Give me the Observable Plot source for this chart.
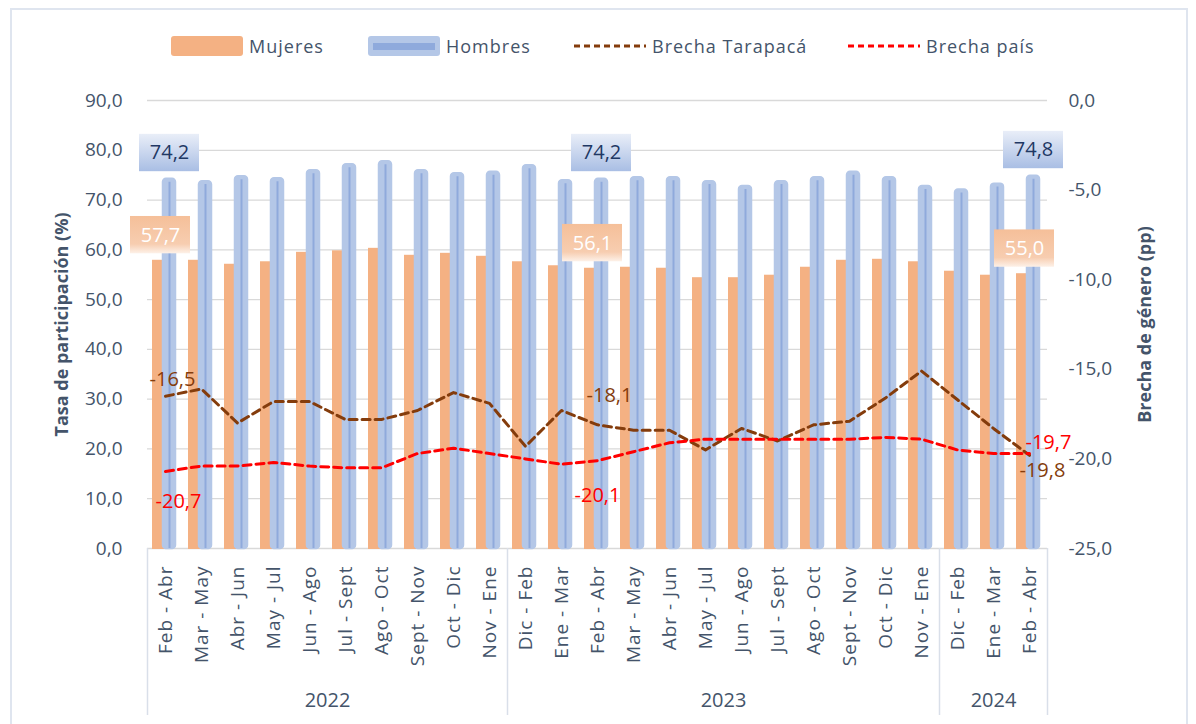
<!DOCTYPE html>
<html><head><meta charset="utf-8">
<script src="https://cdn.jsdelivr.net/npm/d3@7"></script>
<script src="https://cdn.jsdelivr.net/npm/@observablehq/plot@0.6"></script>
<style>
body{margin:0;background:#fff;font-family:"Open Sans",sans-serif;}
#wrap{position:relative;width:1196px;height:724px;overflow:hidden;background:#fff}
#frame{position:absolute;left:10px;top:8px;width:1178px;height:760px;border:2px solid #dfe5ef;box-sizing:border-box}
#legend{position:absolute;left:0;top:0;width:1196px;height:80px}
.item{position:absolute;top:36px;height:20px;display:flex;align-items:center;color:#44546a;font-size:18px;letter-spacing:1px;white-space:nowrap}
.sw{width:72px;height:20px;margin-right:6px;border-radius:3px;box-sizing:border-box}
#chart{position:absolute;left:0;top:80px}
</style></head>
<body>
<div id="wrap">
  <div id="frame"></div>
  <div id="legend">
    <div class="item" style="left:171px"><div class="sw" style="background:#f4b183"></div>Mujeres</div>
    <div class="item" style="left:368px"><div class="sw" style="background:#b4c7e7;display:flex;align-items:center;justify-content:center"><div style="width:62px;height:7px;background:#8faadc"></div></div>Hombres</div>
    <div class="item" style="left:574px"><svg width="72" height="20" style="margin-right:6px"><line x1="0" x2="72" y1="10" y2="10" stroke="#843c0c" stroke-width="3" stroke-dasharray="6,4"/></svg>Brecha Tarapacá</div>
    <div class="item" style="left:848px"><svg width="72" height="20" style="margin-right:6px"><line x1="0" x2="72" y1="10" y2="10" stroke="#ff0000" stroke-width="3" stroke-dasharray="6,4"/></svg>Brecha país</div>
  </div>
  <div id="chart"></div>
</div>
<script>
// ---- data ----
const cats = ["Feb - Abr","Mar - May","Abr - Jun","May - Jul","Jun - Ago","Jul - Sept","Ago - Oct","Sept - Nov","Oct - Dic","Nov - Ene",
              "Dic - Feb","Ene - Mar","Feb - Abr","Mar - May","Abr - Jun","May - Jul","Jun - Ago","Jul - Sept","Ago - Oct","Sept - Nov","Oct - Dic","Nov - Ene",
              "Dic - Feb","Ene - Mar","Feb - Abr"];
const years = ["2022","2023","2024"];
const yearCounts = [10,12,3];
const mujeres = [57.7,57.7,56.9,57.4,59.3,59.6,60.1,58.7,59.1,58.5, 57.4,56.6,56.1,56.3,56.1,54.2,54.2,54.7,56.3,57.7,57.9,57.4, 55.5,54.7,55.0];
const hombres = [74.2,73.7,74.7,74.3,75.9,77.1,77.7,75.9,75.3,75.6, 76.9,73.9,74.2,74.5,74.5,73.7,72.7,73.7,74.5,75.6,74.5,72.7, 72.0,73.2,74.8];
const brechaTarapaca = [-16.5,-16.1,-18.0,-16.8,-16.8,-17.8,-17.8,-17.3,-16.3,-16.9, -19.3,-17.3,-18.1,-18.4,-18.4,-19.5,-18.3,-19.0,-18.1,-17.9,-16.6,-15.1, -16.7,-18.3,-19.8];
const brechaPais = [-20.7,-20.4,-20.4,-20.2,-20.4,-20.5,-20.5,-19.7,-19.4,-19.7, -20.0,-20.3,-20.1,-19.6,-19.1,-18.9,-18.9,-18.9,-18.9,-18.9,-18.8,-18.9, -19.5,-19.7,-19.7];
const leftTicks = [0,10,20,30,40,50,60,70,80,90];
const rightTicks = [0,-5,-10,-15,-20,-25];
const labeledIdx = [0,12,24];

// ---- helpers ----
const fmt = v => (Math.round(v*10)/10 + 0).toFixed(1).replace(".", ",");
const leftMax = 90, rMin = -25, rMax = 0;
const L = v => (v - rMin) * leftMax / (rMax - rMin);
const rows = cats.map((c,i)=>({i, m:mujeres[i], h:hombres[i], t:brechaTarapaca[i], p:brechaPais[i]}));
const lab = rows.filter(d => labeledIdx.includes(d.i));
let s = 0;
const yearRows = years.map((y,k)=>{const r={year:y, start:s, end:s+yearCounts[k]-1}; s+=yearCounts[k]; return r;});
const bounds = [-0.5, ...yearRows.map(r=>r.end+0.5)];
const idx = cats.map((_,i)=>i);

const W=1196, H=644, mL=147, mR=149, mT=20, mB=176;
const frameH = H - mT - mB;
const x1 = d => d.i - 0.5, x2 = d => d.i + 0.5;

const lineLabels = [
  {key:"t", i:0,  dx:7,  dy:-17, anchor:"middle", color:"#843c0c"},
  {key:"t", i:12, dx:12, dy:-29, anchor:"middle", color:"#843c0c"},
  {key:"t", i:24, dx:-10,dy:15,  anchor:"start",  color:"#843c0c"},
  {key:"p", i:0,  dx:13, dy:30,  anchor:"middle", color:"#ff0000"},
  {key:"p", i:12, dx:0,  dy:35,  anchor:"middle", color:"#ff0000"},
  {key:"p", i:24, dx:-4, dy:-11, anchor:"start",  color:"#ff0000"}
];

const marks = [
  Plot.ruleY(leftTicks, {stroke:"#d9d9d9", strokeWidth:1.3}),
  Plot.rect(rows, {x1, x2, y1:0, y2:"m", fill:"#f4b183", stroke:"#f4b183", strokeWidth:2, insetLeft:6, insetRight:18}),
  Plot.rect(rows, {x1, x2, y1:0, y2:"h", fill:"#b4c7e7", stroke:"#b4c7e7", strokeWidth:2.5, insetLeft:16, insetRight:8, rx:3}),
  Plot.ruleX(rows, {x:"i", dx:4, y1:0, y2:d=>d.h-0.6, stroke:"#8faadc", strokeWidth:2}),
  Plot.ruleX(bounds, {x:d=>d, insetTop:frameH, insetBottom:-167, stroke:"#d9dfe9", strokeWidth:1.5}),
  Plot.line(rows, {x:"i", y:d=>L(d.t), stroke:"#843c0c", strokeWidth:3, strokeDasharray:"8,5"}),
  Plot.line(rows, {x:"i", y:d=>L(d.p), stroke:"#ff0000", strokeWidth:3, strokeDasharray:"8,5"}),
  Plot.rect(lab, {x1, x2, y1:d=>d.h+1.5, y2:d=>d.h+9, insetLeft:-8, insetRight:-16, fill:"url(#gBlue)"}),
  Plot.text(lab, {x:"i", dx:4, y:d=>d.h+5.25, text:d=>fmt(d.h), fill:"#1f3864", fontSize:20}),
  Plot.rect(lab, {x1, x2, y1:d=>d.m+1.5, y2:d=>d.m+9, insetLeft:-17, insetRight:-7, fill:"url(#gOrange)"}),
  Plot.text(lab, {x:"i", dx:-5, y:d=>d.m+5.25, text:d=>fmt(d.m), fill:"white", fontSize:20}),
  ...lineLabels.map(o => Plot.text([rows[o.i]], {x:"i", y:d=>L(d[o.key]), text:d=>fmt(d[o.key]), dx:o.dx, dy:o.dy, textAnchor:o.anchor, fill:o.color, fontSize:20})),
  Plot.axisX(idx, {tickFormat:i=>cats[i], tickRotate:-90, tickSize:0, tickPadding:17, fontSize:19, label:null}),
  Plot.axisY(leftTicks, {tickFormat:fmt, tickSize:0, tickPadding:25, fontSize:19, label:null}),
  Plot.axisY(rightTicks.map(L), {anchor:"right", tickFormat:d=>fmt(d*(rMax-rMin)/leftMax + rMin), tickSize:0, tickPadding:21, fontSize:19, label:null}),
  Plot.text(["Tasa de participación (%)"], {text:d=>d, frameAnchor:"left", textAnchor:"middle", rotate:-90, dx:-85, fontWeight:"bold", fontSize:18, fill:"#44546a"}),
  Plot.text(["Brecha de género (pp)"], {text:d=>d, frameAnchor:"right", textAnchor:"middle", rotate:-90, dx:98, fontWeight:"bold", fontSize:18, fill:"#44546a"}),
  Plot.text(yearRows, {x:d=>(d.start+d.end)/2, text:"year", frameAnchor:"bottom", dy:158, fontSize:20, fill:"#44546a"})
];

const svg = Plot.plot({
  width:W, height:H, marginLeft:mL, marginRight:mR, marginTop:mT, marginBottom:mB,
  x:{domain:[-0.5, cats.length-0.5]},
  y:{domain:[0, leftMax]},
  style:{fontFamily:'"Open Sans", sans-serif', fontSize:"19px", color:"#44546a", background:"transparent", overflow:"visible"},
  marks
});
d3.select(svg).selectAll('g[aria-label="x-axis tick label"] text').style("letter-spacing","1px");
const defs = d3.select(svg).insert("defs", ":first-child");
const gb = defs.append("linearGradient").attr("id","gBlue").attr("x1",0).attr("x2",0).attr("y1",0).attr("y2",1);
gb.append("stop").attr("offset","0%").attr("stop-color","#e9eef8");
gb.append("stop").attr("offset","100%").attr("stop-color","#a9bee4");
const go = defs.append("linearGradient").attr("id","gOrange").attr("x1",0).attr("x2",0).attr("y1",0).attr("y2",1);
go.append("stop").attr("offset","0%").attr("stop-color","#f5bf99");
go.append("stop").attr("offset","75%").attr("stop-color","#f7cdb0");
go.append("stop").attr("offset","100%").attr("stop-color","#fdf1e8");
document.getElementById("chart").appendChild(svg);
</script>
</body></html>
